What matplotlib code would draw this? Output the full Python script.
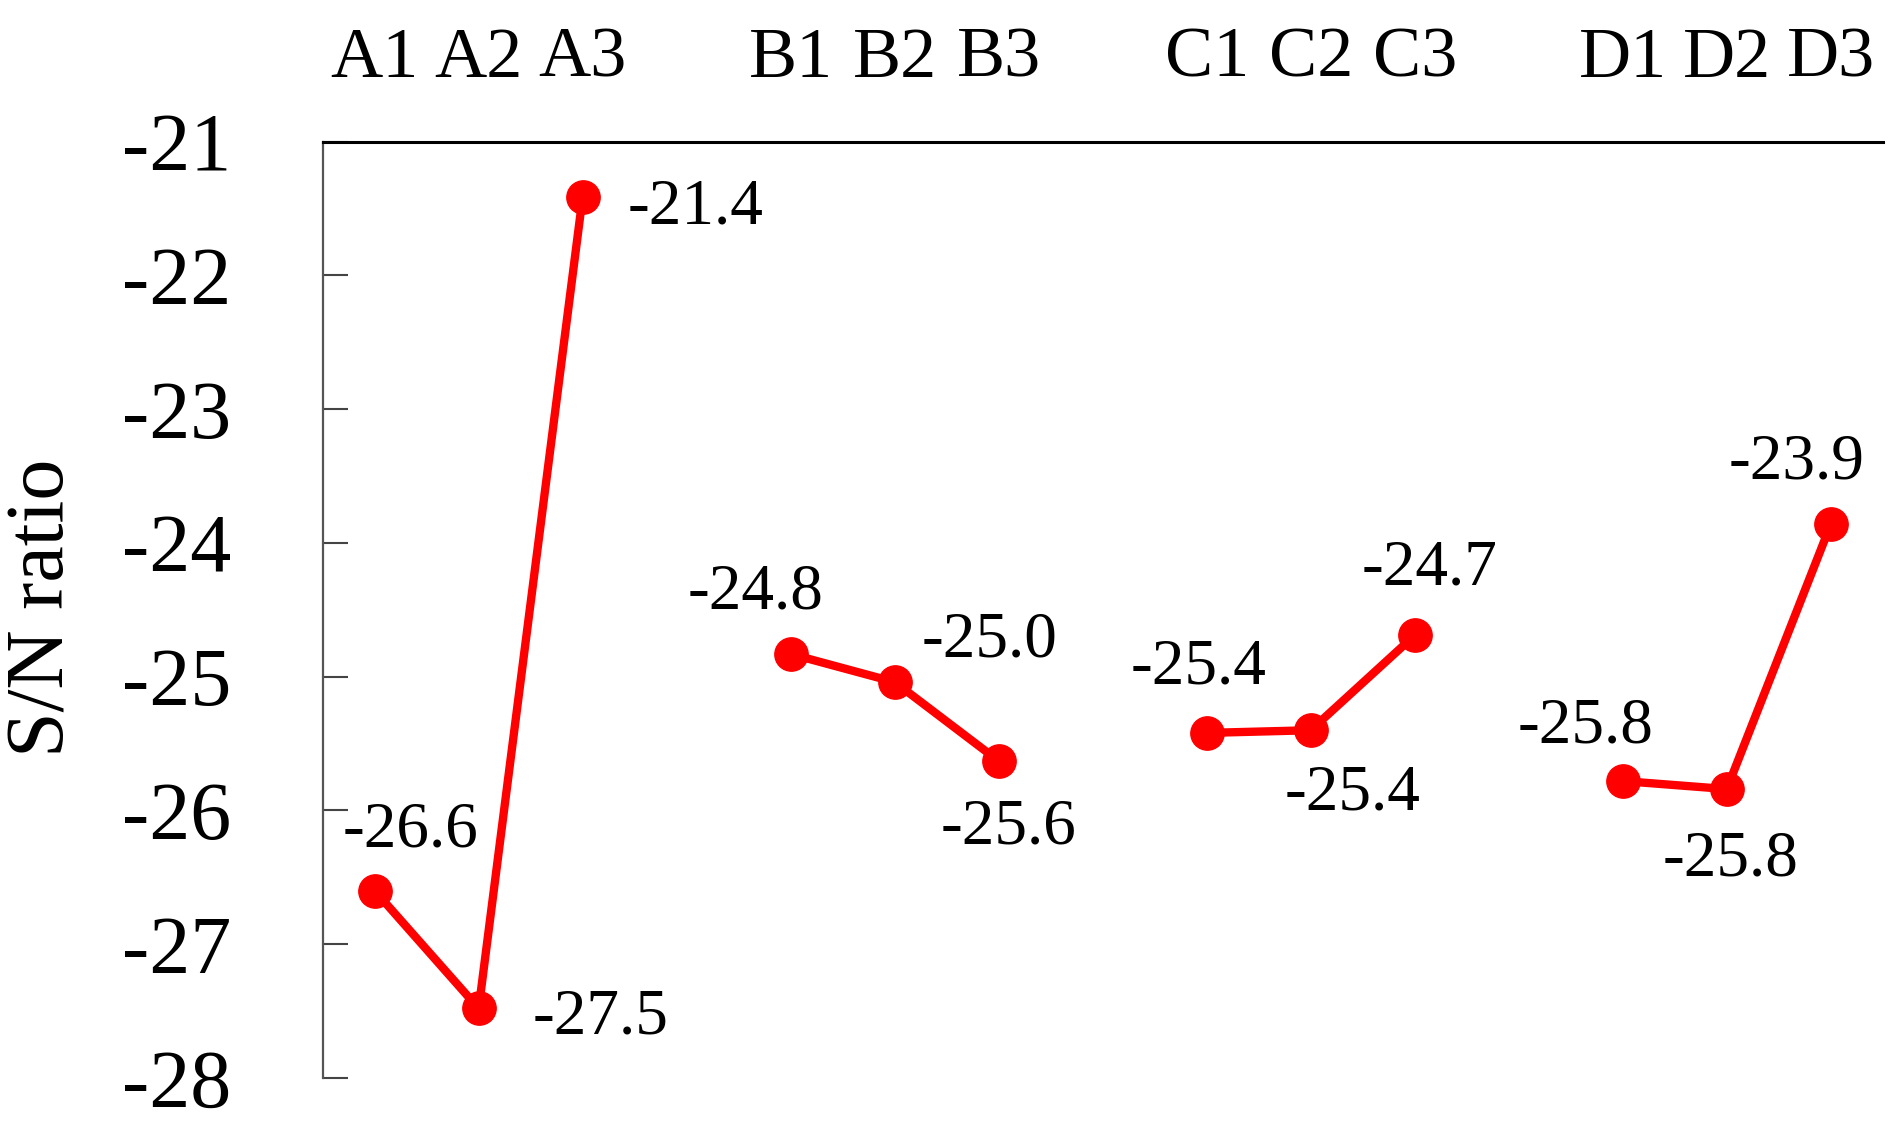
import matplotlib.pyplot as plt

plt.rcParams['font.family'] = ['Liberation Serif', 'DejaVu Serif']
plt.rcParams['axes.unicode_minus'] = False

# levels of each factor and their S/N ratio
groups = ['A', 'B', 'C', 'D']
levels = ['1', '2', '3']
sn_A = [-26.60, -27.48, -21.41]
sn_B = [-24.83, -25.04, -25.63]
sn_C = [-25.42, -25.40, -24.69]
sn_D = [-25.78, -25.84, -23.86]
series = [sn_A, sn_B, sn_C, sn_D]

# label offsets (points) for each value label
offsets = [
    [(26, 43), (88, -7), (81, -8)],
    [(-25, 44), (68, 30), (7, -48)],
    [(-6, 47), (30, -46), (11, 48)],
    [(-27, 39), (3, -51), (-25, 44)],
]

fig = plt.figure(figsize=(18.98, 11.34), dpi=100)
ax = fig.add_axes([0.170, 0.0494, 0.822, 0.8256])

ticks = []
ticklabels = []
for g, (name, vals) in enumerate(zip(groups, series)):
    xs = [4 * g + i for i in range(len(vals))]
    ax.plot(xs, vals, color='#ff0000', lw=6, marker='o', markersize=24,
            solid_capstyle='round', zorder=3)
    for x, v, off in zip(xs, vals, offsets[g]):
        ax.annotate(f'{v:.1f}', (x, v), xytext=off, textcoords='offset points',
                    ha='center', va='center', fontsize=47)
    ticks += xs
    ticklabels += [name + lv for lv in levels]

ax.set_xlim(-0.5, 14.5)
ax.set_ylim(-28, -21)
ax.set_yticks(range(-28, -20))

ax.xaxis.tick_top()
ax.set_xticks(ticks)
ax.set_xticklabels(ticklabels)
ax.tick_params(axis='x', top=True, length=0, pad=36, labelsize=52)
ax.tick_params(axis='y', direction='in', length=18, width=1.5, color='#444444',
               pad=66, labelsize=59)

for s in ['right', 'bottom']:
    ax.spines[s].set_visible(False)
ax.spines['left'].set_color('#555555')
ax.spines['left'].set_linewidth(1.6)
ax.spines['top'].set_linewidth(2.2)

fig.text(44 / 1898, 1 - 608 / 1134, 'S/N ratio', rotation=90,
         ha='center', va='center', fontsize=59)

fig.savefig('out.png', dpi=100)
